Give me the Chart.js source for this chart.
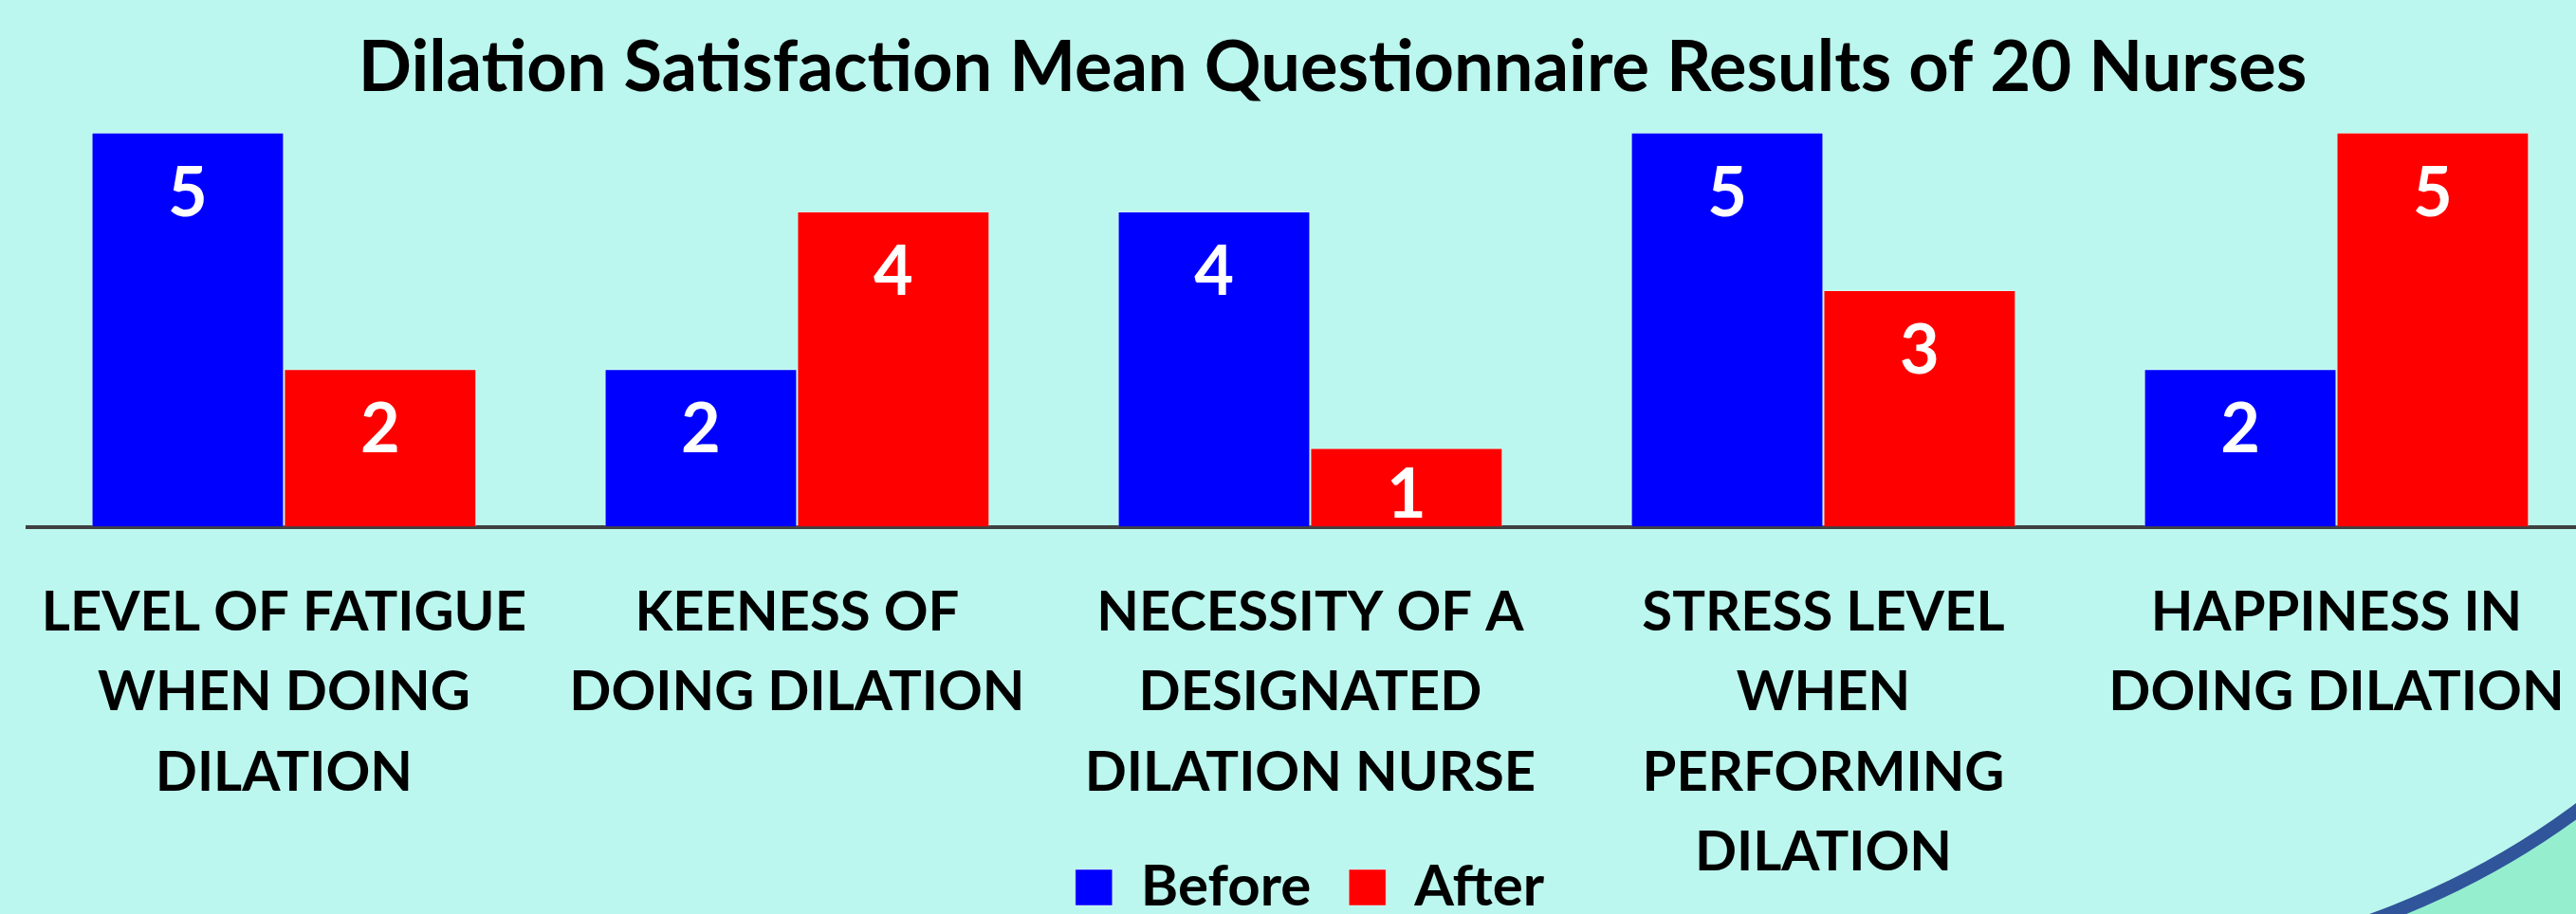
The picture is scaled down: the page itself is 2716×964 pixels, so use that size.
<!DOCTYPE html>
<html>
<head>
<meta charset="utf-8">
<script src="https://cdn.jsdelivr.net/npm/chart.js@4"></script>
<style>
  html, body { margin: 0; padding: 0; overflow: hidden; background: #BBF7EE; }
  #wrap { width: 2810px; height: 964px; }
</style>
</head>
<body>
<div id="wrap"><canvas id="myChart"></canvas></div>
<script>
const categories = [
  ["LEVEL OF FATIGUE", "WHEN DOING", "DILATION"],
  ["KEENESS OF", "DOING DILATION"],
  ["NECESSITY OF A", "DESIGNATED", "DILATION NURSE"],
  ["STRESS LEVEL", "WHEN", "PERFORMING", "DILATION"],
  ["HAPPINESS IN", "DOING DILATION"]
];
const beforeValues = [5, 2, 4, 5, 2];
const afterValues = [2, 4, 1, 3, 5];

const FONT = "Lato, 'Open Sans', sans-serif";

// slide background + corner swoosh
const backdrop = {
  id: 'backdrop',
  beforeDraw(chart) {
    const c = chart.ctx;
    c.save();
    c.fillStyle = '#BBF7EE';
    c.fillRect(0, 0, chart.width, chart.height);
    c.beginPath();
    c.rect(2300, 700, 510, 264);
    c.clip();
    c.beginPath();
    c.rect(2300, 700, 510, 264);
    c.arc(2212, 170, 851, 0, Math.PI * 2);
    c.fillStyle = '#95EFCF';
    c.fill('evenodd');
    c.beginPath();
    c.arc(2212, 170, 851, 0, Math.PI * 2);
    c.lineWidth = 14;
    c.strokeStyle = '#30559A';
    c.stroke();
    c.restore();
  },
  afterLayout(chart) {
    // the axis labels run down past the legend like in the slide, so let them draw
    chart.scales.x.bottom = chart.height;
    // title sits a bit right of the plot centre
    if (chart.titleBlock) chart.titleBlock.left = 76;
  }
};

// white value labels inside bars, kept inside short bars
const valueLabels = {
  id: 'valueLabels',
  afterDatasetsDraw(chart) {
    const c = chart.ctx;
    c.save();
    c.fillStyle = '#FFFFFF';
    c.font = "bold 72px " + FONT;
    c.textAlign = 'center';
    c.textBaseline = 'alphabetic';
    chart.data.datasets.forEach((ds, i) => {
      chart.getDatasetMeta(i).data.forEach((bar, j) => {
        const y = Math.min(bar.y + 88, bar.base - 10);
        c.fillText(ds.data[j], bar.x, y);
      });
    });
    c.restore();
  }
};

new Chart(document.getElementById('myChart'), {
  type: 'bar',
  data: {
    labels: categories,
    datasets: [{
      label: 'Before',
      data: beforeValues,
      backgroundColor: '#0000FF',
      borderColor: 'rgba(255,255,255,0.45)',
      borderWidth: 1
    }, {
      label: 'After',
      data: afterValues,
      backgroundColor: '#FF0000',
      borderColor: 'rgba(255,255,255,0.45)',
      borderWidth: 1
    }]
  },
  options: {
    responsive: true,
    maintainAspectRatio: false,
    animation: false,
    layout: { padding: { left: 28, right: 76, top: 0, bottom: -12 } },
    datasets: {
      bar: { categoryPercentage: 0.75, barPercentage: 1.0 }
    },
    scales: {
      x: {
        grid: { display: false },
        border: { display: true, color: '#404040', width: 4 },
        afterFit(scale) { scale.height -= 116; },
        ticks: {
          color: '#000000',
          padding: 41,
          maxRotation: 0,
          autoSkip: false,
          font: { family: FONT, size: 58, weight: 'bold', lineHeight: 1.45 }
        }
      },
      y: {
        display: false,
        min: 0,
        max: 5
      }
    },
    plugins: {
      title: {
        display: true,
        text: 'Dilation Satisfaction Mean Questionnaire Results of 20 Nurses',
        color: '#000000',
        font: { family: FONT, size: 74, weight: 'bold' },
        padding: { top: 28, bottom: 23 }
      },
      legend: {
        display: true,
        position: 'bottom',
        labels: {
          color: '#000000',
          boxWidth: 39,
          boxHeight: 38,
          padding: 40,
          font: { family: FONT, size: 60, weight: 'bold' }
        }
      },
      tooltip: { enabled: false }
    }
  },
  plugins: [backdrop, valueLabels]
});
</script>
</body>
</html>
